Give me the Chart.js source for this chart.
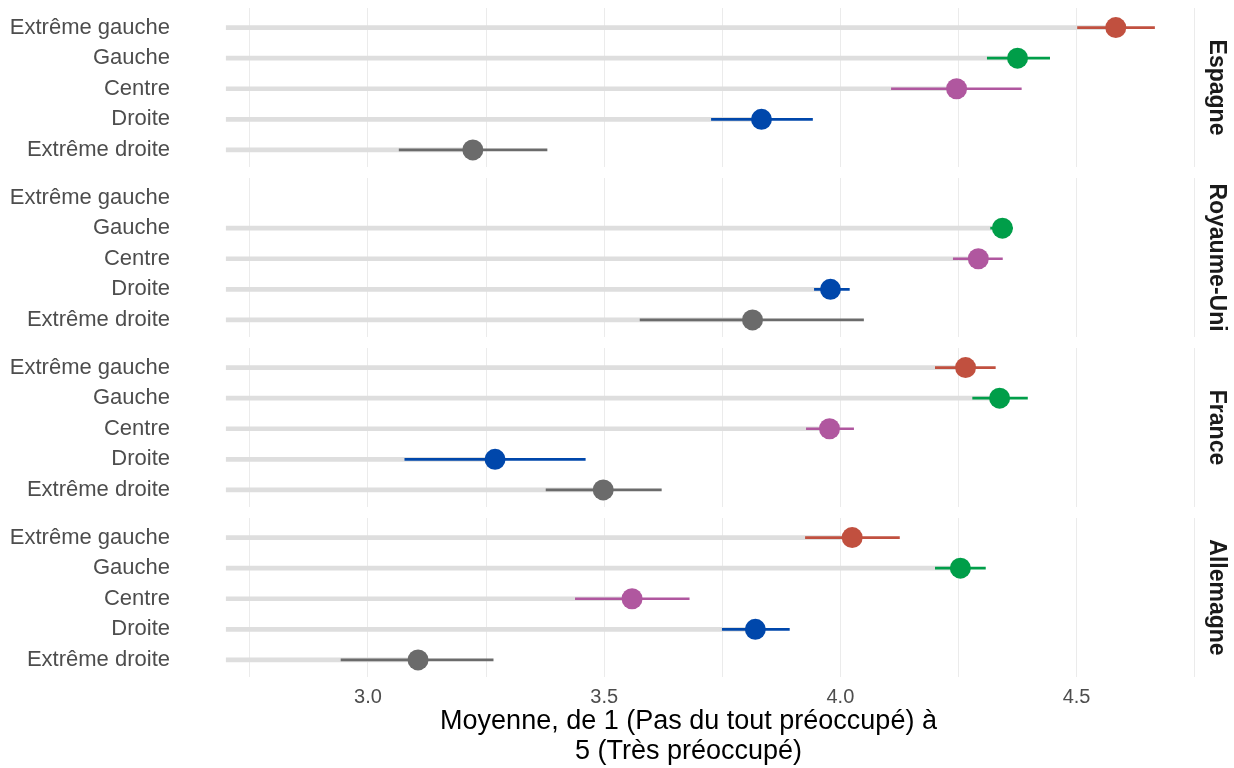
<!DOCTYPE html>
<html>
<head>
<meta charset="utf-8">
<script src="https://cdn.jsdelivr.net/npm/chart.js@4.4.1/dist/chart.umd.min.js"></script>
<style>
  body { margin: 0; background: #fff; }
  #wrap { position: relative; width: 1234px; height: 768px; overflow: hidden; }
  canvas { position: absolute; left: 0; }
</style>
</head>
<body>
<div id="wrap">
  <canvas id="panel0" width="1234" height="159" style="top:8px"></canvas>
  <canvas id="panel1" width="1234" height="159" style="top:178px"></canvas>
  <canvas id="panel2" width="1234" height="159" style="top:348px"></canvas>
  <canvas id="panel3" width="1234" height="250" style="top:518px"></canvas>
</div>
<script>
const categories = ['Extrême gauche', 'Gauche', 'Centre', 'Droite', 'Extrême droite']
const countries = ['Espagne', 'Royaume-Uni', 'France', 'Allemagne']
const categoryColors = ['#C1503F', '#009E49', '#B0579F', '#0047AB', '#6B6B6B']

// moyenne + intervalle (bas / haut) par pays, ordre = categories
const espagneMean = [4.583, 4.375, 4.246, 3.833, 3.222]
const espagneLow = [4.502, 4.311, 4.108, 3.727, 3.066]
const espagneHigh = [4.665, 4.443, 4.383, 3.941, 3.379]

const royaumeUniMean = [null, 4.343, 4.292, 3.979, 3.814]
const royaumeUniLow = [null, 4.318, 4.239, 3.945, 3.576]
const royaumeUniHigh = [null, 4.364, 4.343, 4.019, 4.049]

const franceMean = [4.265, 4.337, 3.977, 3.269, 3.498]
const franceLow = [4.201, 4.280, 3.928, 3.078, 3.377]
const franceHigh = [4.328, 4.396, 4.028, 3.460, 3.621]

const allemagneMean = [4.025, 4.254, 3.559, 3.820, 3.106]
const allemagneLow = [3.926, 4.201, 3.439, 3.750, 2.943]
const allemagneHigh = [4.125, 4.307, 3.680, 3.892, 3.265]

const xTickLabels = ['3.0', '3.5', '4.0', '4.5']
const segmentStart = 2.7

Chart.defaults.font.family = '"Liberation Sans", Arial, sans-serif'

const panels = [
  [espagneMean, espagneLow, espagneHigh],
  [royaumeUniMean, royaumeUniLow, royaumeUniHigh],
  [franceMean, franceLow, franceHigh],
  [allemagneMean, allemagneLow, allemagneHigh]
]

// no auto padding for tick labels, the panel fills its canvas
const noPad = (s) => {
  s.paddingTop = 0
  s.paddingBottom = 0
}

const makePanel = (idx) => {
  const [mean, low, high] = panels[idx]
  const isLast = idx === panels.length - 1
  const rows = mean.map((m, i) => i).filter(i => mean[i] !== null)

  new Chart(document.getElementById('panel' + idx), {
    type: 'bar',
    data: {
      datasets: [
        {
          type: 'scatter',
          data: rows.map(i => ({ x: mean[i], y: i })),
          backgroundColor: (ctx) => categoryColors[ctx.raw.y],
          pointRadius: 10.5,
          pointHoverRadius: 10.5,
          pointBorderWidth: 0,
          order: 1
        },
        {
          data: rows.map(i => ({ y: i, x: [low[i], high[i]] })),
          backgroundColor: (ctx) => categoryColors[ctx.raw.y],
          barThickness: 2,
          grouped: false,
          order: 2
        },
        {
          data: rows.map(i => ({ y: i, x: [segmentStart, mean[i]] })),
          backgroundColor: '#DEDEDE',
          barThickness: 4,
          grouped: false,
          order: 3
        }
      ]
    },
    options: {
      indexAxis: 'y',
      responsive: false,
      animation: false,
      events: [],
      layout: { padding: 0, autoPadding: false },
      plugins: { legend: { display: false }, tooltip: { enabled: false } },
      scales: {
        x: {
          type: 'linear',
          min: 2.6,
          max: 4.757,
          offset: false,
          afterFit: (s) => { s.height = isLast ? 91 : 0 },
          ticks: {
            display: isLast,
            stepSize: 0.25,
            includeBounds: false,
            padding: 8,
            color: '#4D4D4D',
            font: { size: 20 },
            maxRotation: 0,
            autoSkip: false,
            callback: (v) => {
              let k = Math.round((v - 3) * 2)
              if (Math.abs(v * 2 - Math.round(v * 2)) > 1e-6) return ''
              return xTickLabels[k] || ''
            }
          },
          grid: { color: '#EBEBEB', lineWidth: 1, drawTicks: false },
          border: { display: false },
          title: {
            display: isLast,
            text: ['Moyenne, de 1 (Pas du tout préoccupé) à', '5 (Très préoccupé)'],
            color: '#000',
            font: { size: 27, lineHeight: 1.111 },
            padding: { top: 0, bottom: 1 }
          }
        },
        y: {
          type: 'linear',
          reverse: true,
          min: -0.64,
          max: 4.56,
          offset: false,
          afterFit: (s) => {
            s.width = 179
            noPad(s)
          },
          ticks: {
            stepSize: 1,
            includeBounds: false,
            padding: 9,
            color: '#4D4D4D',
            font: { size: 22 },
            autoSkip: false,
            callback: (v) => categories[v] || ''
          },
          grid: { display: false, drawTicks: false, offset: false },
          border: { display: false }
        },
        y2: {
          type: 'linear',
          position: 'right',
          min: -0.64,
          max: 4.56,
          offset: false,
          afterFit: (s) => {
            s.width = 36
            noPad(s)
          },
          ticks: { display: false },
          grid: { display: false, drawTicks: false },
          border: { display: false },
          title: {
            display: true,
            text: countries[idx],
            color: '#1A1A1A',
            font: { size: 23, weight: 'bold' },
            padding: { top: 4, bottom: 0 }
          }
        }
      }
    }
  })
}

document.addEventListener('DOMContentLoaded', function() {
  for (let i = 0; i < panels.length; i++) makePanel(i)
})
</script>
</body>
</html>
